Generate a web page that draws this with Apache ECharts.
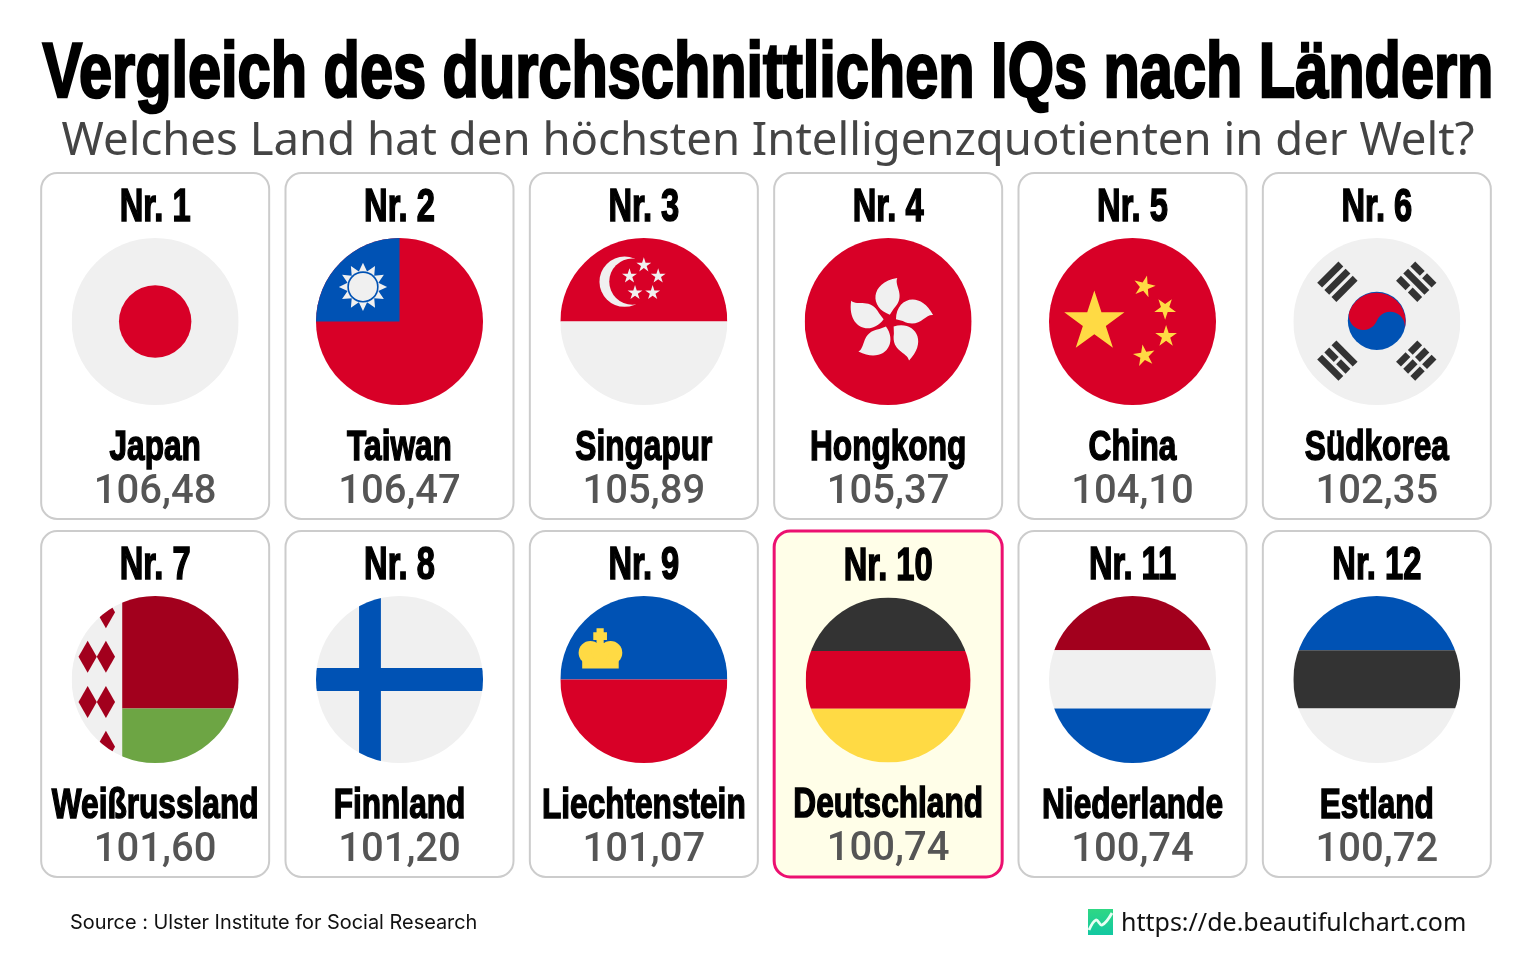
<!DOCTYPE html>
<html>
<head>
<meta charset="utf-8">
<title>Vergleich des durchschnittlichen IQs nach Ländern</title>
<style>
html, body { margin: 0; padding: 0; background: #fff; }
#chart { width: 1536px; height: 960px; }
</style>
<script src="https://cdn.jsdelivr.net/npm/echarts@6/dist/echarts.min.js"></script>
</head>
<body>
<div id="chart"></div>
<script>
var titleText = 'Vergleich des durchschnittlichen IQs nach Ländern';
var subtitleText = 'Welches Land hat den höchsten Intelligenzquotienten in der Welt?';
var sourceText = 'Source : Ulster Institute for Social Research';
var siteText = 'https://de.beautifulchart.com';

var ranks = ['Nr. 1', 'Nr. 2', 'Nr. 3', 'Nr. 4', 'Nr. 5', 'Nr. 6', 'Nr. 7', 'Nr. 8', 'Nr. 9', 'Nr. 10', 'Nr. 11', 'Nr. 12'];
var countries = ['Japan', 'Taiwan', 'Singapur', 'Hongkong', 'China', 'Südkorea', 'Weißrussland', 'Finnland', 'Liechtenstein', 'Deutschland', 'Niederlande', 'Estland'];
var iqValues = [106.48, 106.47, 105.89, 105.37, 104.10, 102.35, 101.60, 101.20, 101.07, 100.74, 100.74, 100.72];
var highlighted = 'Deutschland';
var columns = ['0', '1', '2', '3', '4', '5'];
var rows = ['0', '1'];

var RED = '#d80027', WHITE = '#f0f0f0', BLUE = '#0052b4', YELLOW = '#ffda44', DARK = '#333333', DARKRED = '#a2001d', GREEN = '#6da544';
var CONDENSED = '"Liberation Sans", Arial, sans-serif';

// flag shapes, all in a 512 x 512 box
function box(x, y, w, h) {
    return 'M' + x + ' ' + y + 'h' + w + 'v' + h + 'h' + (-w) + 'z';
}
function disc(cx, cy, r) {
    return 'M' + (cx - r) + ' ' + cy + 'A' + r + ' ' + r + ' 0 1 1 ' + (cx + r) + ' ' + cy + 'A' + r + ' ' + r + ' 0 1 1 ' + (cx - r) + ' ' + cy + 'z';
}
function poly(points) {
    return 'M' + points.map(function (p) { return p[0].toFixed(1) + ' ' + p[1].toFixed(1); }).join('L') + 'z';
}
function star(cx, cy, r, rot, n, inner) {
    n = n || 5;
    inner = inner || 0.382;
    var pts = [];
    for (var i = 0; i < n * 2; i++) {
        var a = (rot || 0) * Math.PI / 180 + i * Math.PI / n - Math.PI / 2;
        var d = i % 2 ? r * inner : r;
        pts.push([cx + d * Math.cos(a), cy + d * Math.sin(a)]);
    }
    return poly(pts);
}
function diamond(cx, cy) {
    return poly([[cx, cy - 49], [cx + 28, cy], [cx, cy + 49], [cx - 28, cy]]);
}
function stripes(c1, c2, c3) {
    return [[box(0, 0, 512, 166), c1], [box(0, 166, 512, 179), c2], [box(0, 345, 512, 167), c3]];
}
function petal(deg) {
    var a = deg * Math.PI / 180, c = Math.cos(a), s = Math.sin(a);
    function t(x, y) {
        return (261 + x * c - y * s).toFixed(1) + ' ' + (255 + x * s + y * c).toFixed(1);
    }
    return 'M' + t(0, -20) + 'C' + t(-62, -40) + ' ' + t(-62, -118) + ' ' + t(23, -132) +
        'C' + t(12, -108) + ' ' + t(52, -78) + ' ' + t(12, -38) + 'z';
}
// one trigram bar: angle of its corner, distance from the middle, from-to along the bar
function bar(deg, d, from, to) {
    var a = deg * Math.PI / 180, ux = Math.cos(a), uy = Math.sin(a), vx = -uy, vy = ux, w = 10.5;
    var mx = 256 + d * ux, my = 255 + d * uy;
    return poly([
        [mx + from * vx - w * ux, my + from * vy - w * uy],
        [mx + to * vx - w * ux, my + to * vy - w * uy],
        [mx + to * vx + w * ux, my + to * vy + w * uy],
        [mx + from * vx + w * ux, my + from * vy + w * uy]
    ]);
}
function trigram(deg, pattern) {
    var dist = [140, 171, 202], out = [];
    pattern.forEach(function (solid, i) {
        if (solid) {
            out.push([bar(deg, dist[i], -46, 46), DARK]);
        } else {
            out.push([bar(deg, dist[i], -46, -5), DARK]);
            out.push([bar(deg, dist[i], 5, 46), DARK]);
        }
    });
    return out;
}

var flags = {
    'Japan': [[box(0, 0, 512, 512), WHITE], [disc(256, 256, 111), RED]],
    'Taiwan': [
        [box(0, 0, 512, 512), RED],
        [box(0, 0, 256, 256), BLUE],
        [star(144, 150, 74, 0, 12, 0.66), WHITE],
        [disc(144, 150, 48), BLUE],
        [disc(144, 150, 43), WHITE]
    ],
    'Singapur': [
        [box(0, 0, 512, 256), RED],
        [box(0, 256, 512, 256), WHITE],
        [disc(197, 134, 77), WHITE],
        [disc(221, 134, 71), RED],
        [star(256, 83, 24), WHITE],
        [star(300, 117, 24), WHITE],
        [star(283, 168, 24), WHITE],
        [star(229, 168, 24), WHITE],
        [star(212, 117, 24), WHITE]
    ],
    'Hongkong': [
        [box(0, 0, 512, 512), RED],
        [petal(0), WHITE], [petal(72), WHITE], [petal(144), WHITE], [petal(216), WHITE], [petal(288), WHITE]
    ],
    'China': [
        [box(0, 0, 512, 512), RED],
        [star(139, 258, 97), YELLOW],
        [star(292, 149, 35, 14), YELLOW],
        [star(356, 216, 35, 36), YELLOW],
        [star(359, 302, 35, 0), YELLOW],
        [star(292, 361, 35, -9), YELLOW]
    ],
    'Südkorea': [
        [box(0, 0, 512, 512), WHITE],
        [disc(256, 254, 89), BLUE],
        ['M172.4 223.6A89 89 0 0 1 339.6 284.4A44.5 44.5 0 0 0 256 254A44.5 44.5 0 0 1 172.4 223.6z', RED]
    ].concat(
        trigram(225, [1, 1, 1]),
        trigram(315, [0, 1, 0]),
        trigram(135, [1, 0, 1]),
        trigram(45, [0, 0, 0])
    ),
    'Weißrussland': [
        [box(0, 0, 512, 512), WHITE],
        [box(155, 0, 357, 345), DARKRED],
        [box(155, 345, 357, 167), GREEN],
        [diamond(105, 50), DARKRED],
        [diamond(49, 186), DARKRED],
        [diamond(105, 186), DARKRED],
        [diamond(49, 325), DARKRED],
        [diamond(105, 325), DARKRED],
        [diamond(105, 462), DARKRED]
    ],
    'Finnland': [
        [box(0, 0, 512, 512), WHITE],
        [box(132, 0, 67, 512), BLUE],
        [box(0, 221, 512, 70), BLUE]
    ],
    'Liechtenstein': [
        [box(0, 0, 512, 256), BLUE],
        [box(0, 256, 512, 256), RED],
        [box(67, 186, 112, 36), YELLOW],
        [disc(92, 174, 36), YELLOW],
        [disc(154, 174, 36), YELLOW],
        [disc(122, 170, 28), YELLOW],
        [box(111, 99, 22, 56), YELLOW],
        [box(101, 111, 42, 24), YELLOW]
    ],
    'Deutschland': stripes(DARK, RED, YELLOW),
    'Niederlande': stripes(DARKRED, WHITE, BLUE),
    'Estland': stripes(BLUE, DARK, WHITE)
};

function condensed(text, x, y, size, scale, stroke, fill) {
    return {
        type: 'text',
        x: x,
        y: y,
        scaleX: scale,
        style: {
            text: text,
            font: 'bold ' + size + 'px ' + CONDENSED,
            fill: fill || '#000',
            stroke: fill || '#000',
            lineWidth: stroke,
            align: 'center',
            verticalAlign: 'middle'
        }
    };
}

function renderCard(params, api) {
    var i = api.value(2);
    var c = api.coord([api.value(0), api.value(1)]);
    var cx = c[0], cy = c[1];
    var name = countries[i];
    var on = name === highlighted;
    var R = on ? 82.5 : 83.5;
    var flagY = cy - 24.5 + (on ? 0.5 : 0);
    var shift = on ? 1 : 0;
    var s = R / 256;
    return {
        type: 'group',
        children: [
            {
                type: 'rect',
                shape: { x: cx - 114, y: cy - 173, width: 228, height: 346, r: 16 },
                style: { fill: on ? '#fffee8' : '#fff', stroke: on ? '#ec1070' : '#cccccc', lineWidth: on ? 3 : 2 }
            },
            condensed(ranks[i], cx, cy - 138 + shift, 46, 0.71, 1.6),
            {
                type: 'group',
                x: cx - R,
                y: flagY - R,
                scaleX: s,
                scaleY: s,
                clipPath: { type: 'circle', shape: { cx: 256, cy: 256, r: 256 } },
                children: flags[name].map(function (f) {
                    return { type: 'path', shape: { pathData: f[0] }, style: { fill: f[1] } };
                })
            },
            condensed(name, cx, cy + 102 - (on ? 1 : 0), 43, 0.735, 1.5),
            {
                type: 'text',
                x: cx,
                y: cy + 147 - (on ? 1 : 0),
                style: {
                    text: iqValues[i].toFixed(2).replace('.', ','),
                    font: '500 40px Roboto, sans-serif',
                    fill: '#555555',
                    align: 'center',
                    verticalAlign: 'middle'
                }
            }
        ]
    };
}

var cardData = countries.map(function (name, i) {
    return [i % columns.length, Math.floor(i / columns.length), i];
});

var myChart = echarts.init(document.getElementById('chart'), null, { renderer: 'canvas' });
var option = {
    animation: false,
    backgroundColor: '#fff',
    grid: { left: 33, right: 37, top: 167, bottom: 77 },
    xAxis: { type: 'category', data: columns, show: false },
    yAxis: { type: 'category', data: rows, inverse: true, show: false },
    series: [{
        type: 'custom',
        coordinateSystem: 'cartesian2d',
        renderItem: renderCard,
        encode: { x: 0, y: 1 },
        data: cardData,
        silent: true
    }],
    graphic: [
        {
            type: 'text', x: 768, y: 75, scaleX: 0.7625,
            style: {
                text: titleText, font: 'bold 78px ' + CONDENSED, fill: '#000', stroke: '#000', lineWidth: 2.6,
                align: 'center', verticalAlign: 'middle'
            }
        },
        {
            type: 'text', x: 768, y: 142,
            style: {
                text: subtitleText, font: '45.5px "Noto Sans", sans-serif', fill: '#444444',
                align: 'center', verticalAlign: 'middle'
            }
        },
        {
            type: 'text', x: 70, y: 923,
            style: {
                text: sourceText, font: '19.9px Inter, sans-serif', fill: '#111111',
                align: 'left', verticalAlign: 'middle'
            }
        },
        {
            type: 'rect', shape: { x: 1088, y: 909, width: 25, height: 26 },
            style: {
                fill: { type: 'linear', x: 0, y: 0, x2: 0, y2: 1, colorStops: [{ offset: 0, color: '#2fd884' }, { offset: 1, color: '#12c8a2' }] }
            }
        },
        {
            type: 'polyline',
            shape: { points: [[1089, 930], [1096, 920], [1102, 925], [1112, 913]], smooth: 0.4 },
            style: { stroke: '#e8fff4', lineWidth: 2.8, fill: null }
        },
        {
            type: 'text', x: 1121, y: 924,
            style: {
                text: siteText, font: '25px "Noto Sans", sans-serif', fill: '#111111',
                align: 'left', verticalAlign: 'middle'
            }
        }
    ]
};
myChart.setOption(option);
</script>
</body>
</html>
